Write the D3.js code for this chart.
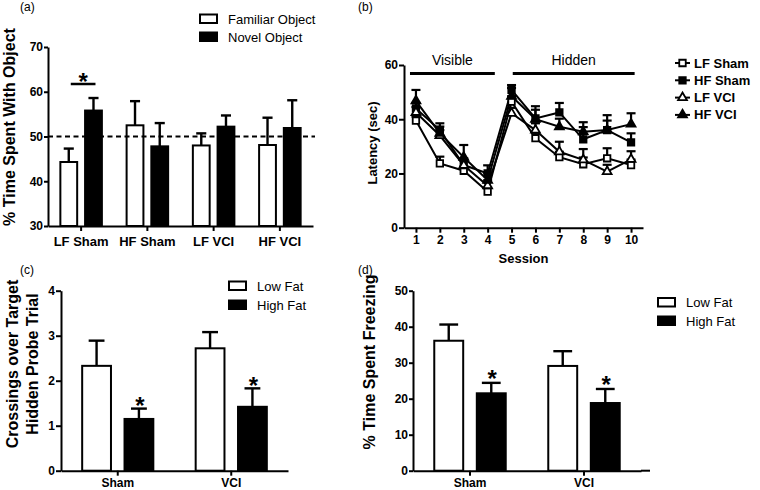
<!DOCTYPE html>
<html><head><meta charset="utf-8">
<script src="https://cdn.jsdelivr.net/npm/d3@7"></script>
<style>body{margin:0;background:#fff}svg{display:block}</style>
</head><body><svg id="c" width="760" height="490"></svg>
<script>
// ---------- DATA ----------
// Panel (a) novel object recognition
const objGroups = ["LF Sham", "HF Sham", "LF VCI", "HF VCI"];
const objSeries = ["Familiar Object", "Novel Object"];
const familiarMean = [44.3, 52.5, 48.0, 48.1];
const familiarSem  = [3.0, 5.4, 2.7, 6.1];
const novelMean    = [55.8, 47.8, 52.2, 51.9];
const novelSem     = [2.8, 5.2, 2.5, 6.2];
const objTicks = [30, 40, 50, 60, 70];
const chanceLevel = 50;

// Panel (b) water maze latency
const sessions = [1, 2, 3, 4, 5, 6, 7, 8, 9, 10];
const mazeSeries = ["LF Sham", "HF Sham", "LF VCI", "HF VCI"];
const lfShamLatency = [39.5, 23.7, 21.0, 13.3, 46.5, 33.0, 26.0, 23.4, 25.6, 23.1];
const lfShamSem     = [1.5, 2.5, 1.5, 1.5, 2.0, 2.0, 2.0, 2.5, 3.7, 2.0];
const hfShamLatency = [44.0, 36.0, 23.1, 20.0, 50.8, 40.3, 42.5, 32.6, 36.0, 31.5];
const hfShamSem     = [2.0, 2.5, 2.5, 3.0, 1.8, 4.5, 3.5, 4.5, 3.5, 3.3];
const lfVciLatency  = [42.5, 34.0, 23.0, 15.5, 42.2, 36.0, 28.0, 25.0, 20.7, 25.2];
const lfVciSem      = [2.0, 2.0, 2.0, 2.0, 2.0, 2.5, 3.7, 4.0, 2.5, 3.0];
const hfVciLatency  = [46.8, 34.8, 26.0, 17.5, 48.5, 40.0, 37.2, 35.4, 36.0, 38.2];
const hfVciSem      = [4.0, 2.5, 4.5, 2.5, 3.0, 3.5, 3.0, 3.5, 5.5, 4.0];
const latencyTicks = [0, 20, 40, 60];
const phaseLabels = ["Visible", "Hidden"];
const phaseStart = [0.75, 5.05];
const phaseEnd   = [4.3, 10.15];

// Panel (c) probe trial crossings
const dietGroups = ["Sham", "VCI"];
const dietSeries = ["Low Fat", "High Fat"];
const crossLowFat  = [2.33, 2.72];
const crossLowSem  = [0.56, 0.36];
const crossHighFat = [1.15, 1.42];
const crossHighSem = [0.23, 0.41];
const crossHighSig = [true, true];
const crossTicks = [0, 1, 2, 3, 4];

// Panel (d) freezing
const freezeLowFat  = [36.1, 29.1];
const freezeLowSem  = [4.5, 4.1];
const freezeHighFat = [21.5, 18.8];
const freezeHighSem = [2.9, 3.9];
const freezeHighSig = [true, true];
const freezeTicks = [0, 10, 20, 30, 40, 50];

// ---------- DRAW ----------
const FONT = '"Liberation Sans", Arial, Helvetica, sans-serif';
const svg = d3.select("#c");

function txt(x, y, s, size, weight, anchor) {
  return svg.append("text").attr("x", x).attr("y", y).text(s)
    .attr("font-family", FONT).attr("font-size", size)
    .attr("font-weight", weight || "normal")
    .attr("text-anchor", anchor || "start").attr("fill", "#000");
}
function styleAxis(g, fs) {
  g.selectAll("path,line").attr("stroke", "#000").attr("stroke-width", 2);
  g.selectAll("text").attr("font-family", FONT).attr("font-weight", "bold")
    .attr("font-size", fs).attr("fill", "#000");
}
function star(x, yCenter, fs) {
  txt(x, yCenter + 0.575 * fs, "*", fs, "bold", "middle");
}

function barPanel(o) {
  const x0 = d3.scaleBand().domain(o.groups).range(o.xr).padding(0);
  const x1 = d3.scaleBand().domain(o.series).range([0, x0.bandwidth()])
    .paddingInner(0.32).paddingOuter(0.5);
  const y = d3.scaleLinear().domain(o.yd).range(o.yr);
  const base = o.yr[0];
  const g = svg.append("g");
  o.series.forEach((s, si) => {
    o.groups.forEach((grp, gi) => {
      const v = o.means[si][gi], e = o.sems[si][gi];
      const bx = x0(grp) + x1(s), bw = x1.bandwidth();
      const cx = bx + bw / 2, cw = bw * o.cap;
      g.append("line").attr("x1", cx).attr("x2", cx).attr("y1", y(v)).attr("y2", y(v + e))
        .attr("stroke", "#000").attr("stroke-width", 2.4);
      g.append("line").attr("x1", cx - cw / 2).attr("x2", cx + cw / 2).attr("y1", y(v + e)).attr("y2", y(v + e))
        .attr("stroke", "#000").attr("stroke-width", 2.4);
      g.append("rect").attr("x", bx).attr("width", bw).attr("y", y(v)).attr("height", base - y(v))
        .attr("fill", si === 0 ? "#fff" : "#000").attr("stroke", "#000").attr("stroke-width", 2);
    });
  });
  const ya = svg.append("g").attr("transform", `translate(${o.xr[0]},0)`)
    .call(d3.axisLeft(y).tickValues(o.ticks).tickSize(o.ytick).tickPadding(1).tickSizeOuter(0).tickFormat(d3.format("d")));
  styleAxis(ya, 12);
  const xa = svg.append("g").attr("transform", `translate(0,${base})`)
    .call(d3.axisBottom(x0).tickSize(5).tickPadding(o.xpad).tickSizeOuter(0));
  styleAxis(xa, o.xfs);
  if (o.axisEnd) {
    svg.append("line").attr("x1", o.xr[1]).attr("x2", o.axisEnd).attr("y1", base).attr("y2", base)
      .attr("stroke", "#000").attr("stroke-width", 2);
  }
  return {x0, x1, y};
}

function legendBoxes(x, y0, dy, names, fs) {
  names.forEach((n, i) => {
    const yy = y0 + i * dy;
    svg.append("rect").attr("x", x).attr("y", yy - 9).attr("width", 17).attr("height", 8.5)
      .attr("fill", i === 0 ? "#fff" : "#000").attr("stroke", "#000").attr("stroke-width", 2);
    txt(x + 28, yy, n, fs);
  });
}

// ----- Panel (a)
txt(20, 11, "(a)", 12);
const A = barPanel({
  groups: objGroups, series: objSeries,
  means: [familiarMean, novelMean], sems: [familiarSem, novelSem],
  xr: [48, 313], yr: [226, 47], yd: [30, 70], ticks: objTicks,
  ytick: 4, xpad: 6, xfs: 13, cap: 0.6
});
svg.append("line").attr("x1", 48).attr("x2", 315)
  .attr("y1", A.y(chanceLevel)).attr("y2", A.y(chanceLevel))
  .attr("stroke", "#000").attr("stroke-width", 2).attr("stroke-dasharray", "5,3.5");
{
  const gx = A.x0("LF Sham");
  const xa = gx + A.x1("Familiar Object") + A.x1.bandwidth() / 2 + 2;
  const xb = gx + A.x1("Novel Object") + A.x1.bandwidth() / 2 + 2;
  svg.append("line").attr("x1", xa).attr("x2", xb).attr("y1", 84).attr("y2", 84)
    .attr("stroke", "#000").attr("stroke-width", 2.5);
  star((xa + xb) / 2, 76, 24);
}
svg.append("text").attr("transform", "translate(15,127) rotate(-90)")
  .attr("text-anchor", "middle").attr("font-family", FONT).attr("font-weight", "bold")
  .attr("font-size", 16).text("% Time Spent With Object");
legendBoxes(200, 23.5, 18, objSeries, 13);

// ----- Panel (b)
txt(358, 11, "(b)", 12);
const bx = d3.scaleLinear().domain([0.5, 10.5]).range([404, 643]);
const by = d3.scaleLinear().domain([0, 60]).range([227.7, 65]);
const mazeData = [
  {name: mazeSeries[0], v: lfShamLatency, e: lfShamSem},
  {name: mazeSeries[1], v: hfShamLatency, e: hfShamSem},
  {name: mazeSeries[2], v: lfVciLatency,  e: lfVciSem},
  {name: mazeSeries[3], v: hfVciLatency,  e: hfVciSem}
];
const mazeStyle = {
  "LF Sham": {shape: d3.symbolSquare, fill: "#fff", size: 42},
  "HF Sham": {shape: d3.symbolSquare, fill: "#000", size: 42},
  "LF VCI":  {shape: d3.symbolTriangle, fill: "#fff", size: 34},
  "HF VCI":  {shape: d3.symbolTriangle, fill: "#000", size: 34}
};
const bg = svg.append("g");
mazeData.forEach(sr => {
  sessions.forEach((s, i) => {
    const cx = bx(s), y1 = by(sr.v[i]), y2 = by(sr.v[i] + sr.e[i]);
    bg.append("line").attr("x1", cx).attr("x2", cx).attr("y1", y1).attr("y2", y2)
      .attr("stroke", "#000").attr("stroke-width", 2.2);
    bg.append("line").attr("x1", cx - 4.5).attr("x2", cx + 4.5).attr("y1", y2).attr("y2", y2)
      .attr("stroke", "#000").attr("stroke-width", 2.2);
  });
});
const lineGen = d3.line().x((d, i) => bx(sessions[i])).y(d => by(d));
mazeData.forEach(sr => {
  bg.append("path").attr("d", lineGen(sr.v)).attr("fill", "none")
    .attr("stroke", "#000").attr("stroke-width", 2);
});
mazeData.forEach(sr => {
  const st = mazeStyle[sr.name];
  sessions.forEach((s, i) => {
    bg.append("path").attr("d", d3.symbol(st.shape, st.size)())
      .attr("transform", `translate(${bx(s)},${by(sr.v[i])})`)
      .attr("fill", st.fill).attr("stroke", "#000").attr("stroke-width", 1.8);
  });
});
const bya = svg.append("g").attr("transform", "translate(404,0)")
  .call(d3.axisLeft(by).tickValues(latencyTicks).tickSize(5).tickPadding(1).tickSizeOuter(0));
styleAxis(bya, 12);
const bxa = svg.append("g").attr("transform", "translate(0,227.7)")
  .call(d3.axisBottom(bx).tickValues(sessions).tickSize(5).tickPadding(3).tickSizeOuter(0).tickFormat(d3.format("d")));
styleAxis(bxa, 12);
txt(523.5, 263, "Session", 13, "bold", "middle");
svg.append("text").attr("transform", "translate(377,143) rotate(-90)")
  .attr("text-anchor", "middle").attr("font-family", FONT).attr("font-weight", "bold")
  .attr("font-size", 13).text("Latency (sec)");
phaseLabels.forEach((p, i) => {
  svg.append("line").attr("x1", bx(phaseStart[i])).attr("x2", bx(phaseEnd[i]))
    .attr("y1", by(56.9)).attr("y2", by(56.9)).attr("stroke", "#000").attr("stroke-width", 3);
  txt((bx(phaseStart[i]) + bx(phaseEnd[i])) / 2, by(60), p, 14, "normal", "middle");
});
mazeSeries.forEach((n, i) => {
  const yy = 63 + i * 17.3, st = mazeStyle[n];
  svg.append("line").attr("x1", 675).attr("x2", 690).attr("y1", yy).attr("y2", yy)
    .attr("stroke", "#000").attr("stroke-width", 2);
  svg.append("path").attr("d", d3.symbol(st.shape, st.size)())
    .attr("transform", `translate(682.5,${yy})`)
    .attr("fill", st.fill).attr("stroke", "#000").attr("stroke-width", 1.8);
  txt(694, yy + 4.5, n, 13, "bold");
});

// ----- Panel (c)
txt(20, 274, "(c)", 12);
const C = barPanel({
  groups: dietGroups, series: dietSeries,
  means: [crossLowFat, crossHighFat], sems: [crossLowSem, crossHighSem],
  xr: [61, 288], yr: [470.7, 290.7], yd: [0, 4], ticks: crossTicks,
  ytick: 5, xpad: 2.5, xfs: 12, cap: 0.55
});
dietGroups.forEach((g, i) => {
  if (crossHighSig[i]) {
    const cx = C.x0(g) + C.x1("High Fat") + C.x1.bandwidth() / 2 + 1;
    star(cx, C.y(crossHighFat[i] + crossHighSem[i]) - 8, 24);
  }
});
{
  const t = svg.append("text").attr("transform", "translate(0,364) rotate(-90)")
    .attr("text-anchor", "middle").attr("font-family", FONT).attr("font-weight", "bold").attr("font-size", 16);
  t.append("tspan").attr("x", 0).attr("y", 18).text("Crossings over Target");
  t.append("tspan").attr("x", 0).attr("y", 38).text("Hidden Probe Trial");
}
legendBoxes(229, 290.5, 19, dietSeries, 13);

// ----- Panel (d)
txt(358, 274, "(d)", 12);
const D = barPanel({
  groups: dietGroups, series: dietSeries,
  means: [freezeLowFat, freezeHighFat], sems: [freezeLowSem, freezeHighSem],
  xr: [413, 641], yr: [470.7, 290.7], yd: [0, 50], ticks: freezeTicks,
  ytick: 4, xpad: 2.5, xfs: 12, cap: 0.65, axisEnd: 650
});
dietGroups.forEach((g, i) => {
  if (freezeHighSig[i]) {
    const cx = D.x0(g) + D.x1("High Fat") + D.x1.bandwidth() / 2 + 1;
    star(cx, D.y(freezeHighFat[i] + freezeHighSem[i]) - 10, 24);
  }
});
svg.append("text").attr("transform", "translate(375,362) rotate(-90)")
  .attr("text-anchor", "middle").attr("font-family", FONT).attr("font-weight", "bold")
  .attr("font-size", 16).text("% Time Spent Freezing");
legendBoxes(658, 307, 18.5, dietSeries, 13);
</script></body></html>
